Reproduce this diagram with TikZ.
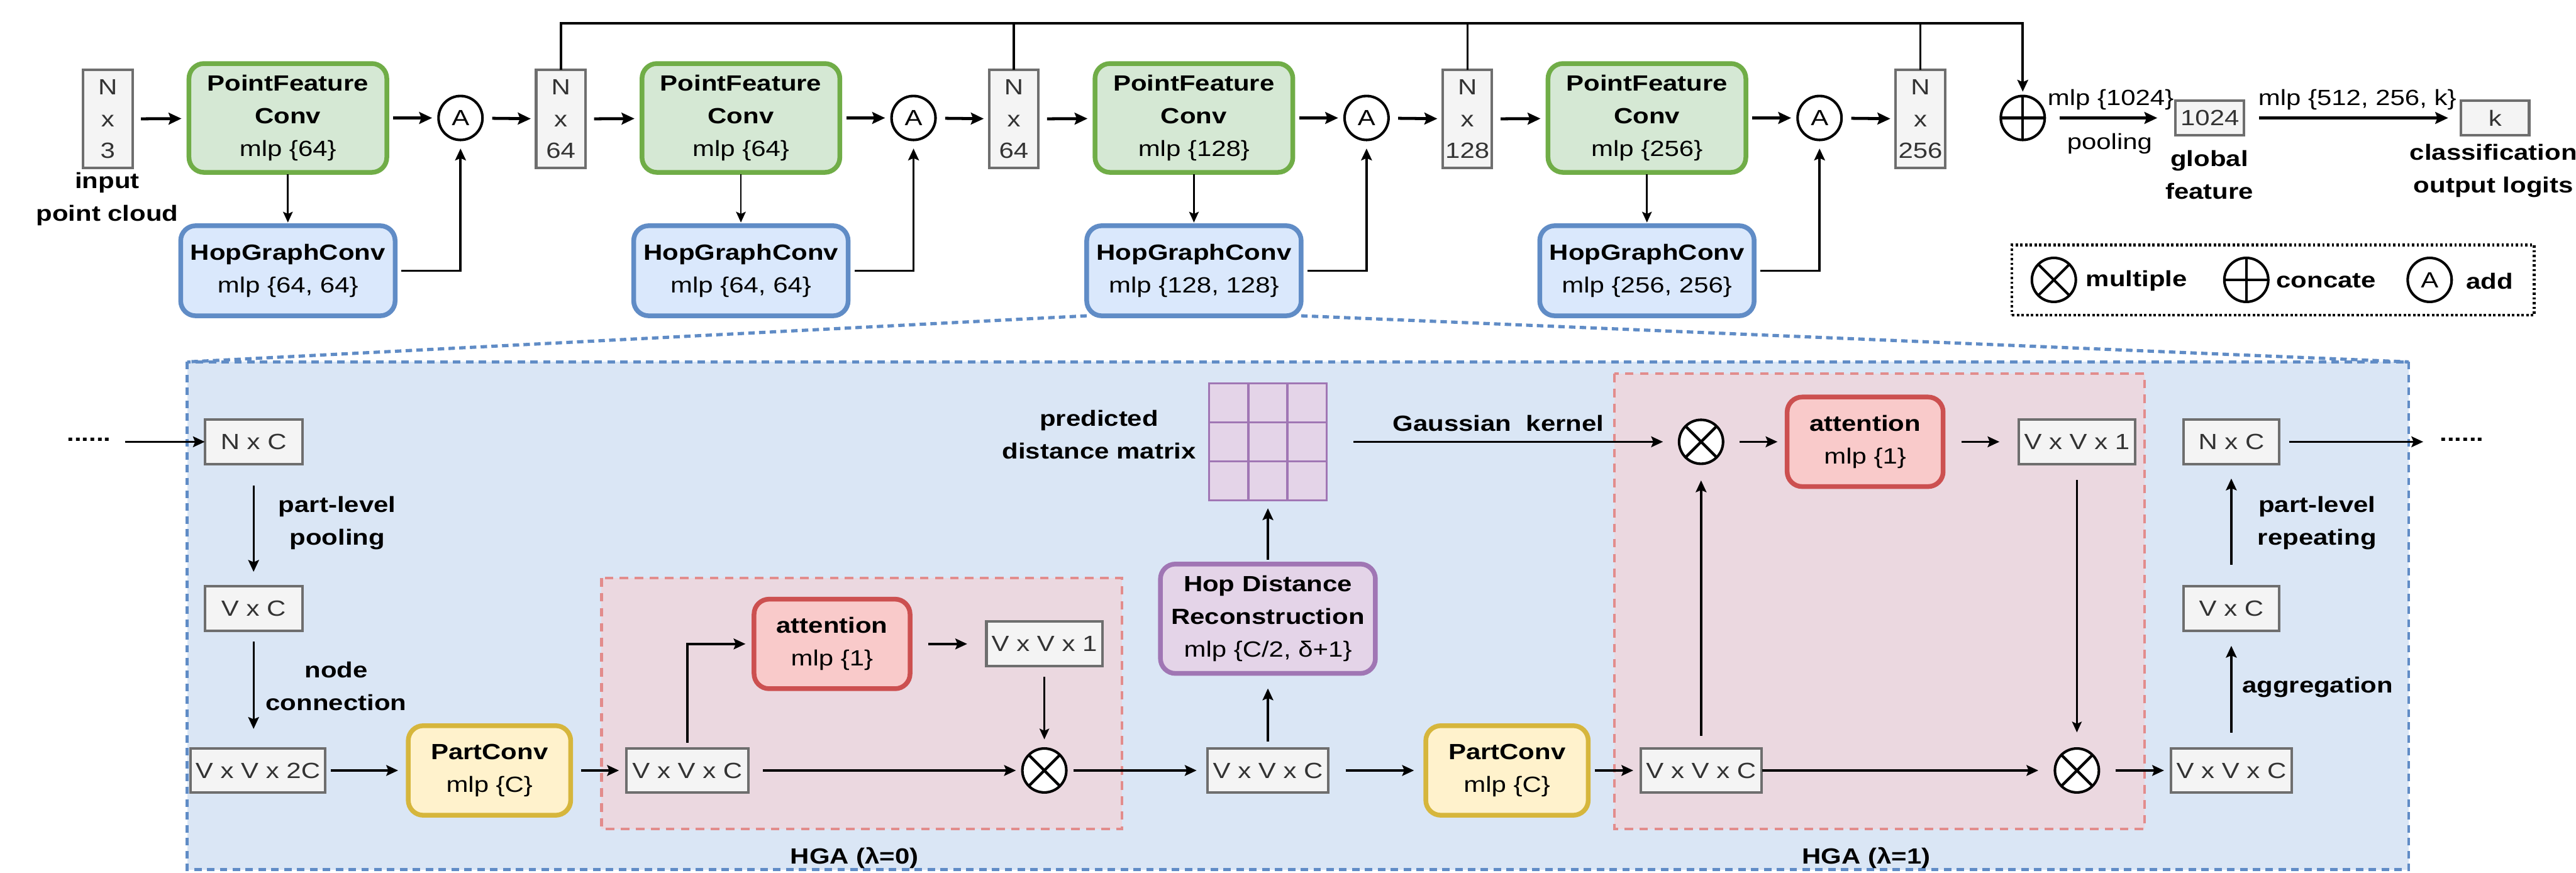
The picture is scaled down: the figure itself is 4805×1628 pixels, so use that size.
\documentclass[tikz,border=0pt]{standalone}
\usepackage{fontspec}
\setmainfont{Liberation Sans}[FakeStretch=1.2]
\usetikzlibrary{arrows.meta,calc}
\definecolor{gfill}{RGB}{213,232,212}
\definecolor{gdraw}{RGB}{112,173,71}
\definecolor{bfill}{RGB}{218,232,252}
\definecolor{bdraw}{RGB}{96,140,198}
\definecolor{yfill}{RGB}{255,242,204}
\definecolor{ydraw}{RGB}{214,182,60}
\definecolor{rfill}{RGB}{249,202,202}
\definecolor{rdraw}{RGB}{204,80,80}
\definecolor{pfill}{RGB}{228,212,232}
\definecolor{pdraw}{RGB}{160,118,180}
\definecolor{grayf}{RGB}{244,244,244}
\definecolor{grayd}{RGB}{110,110,110}
\definecolor{graytxt}{RGB}{51,51,51}
\definecolor{regfill}{RGB}{218,230,245}
\definecolor{regdraw}{RGB}{96,140,198}
\definecolor{pinkfill}{RGB}{235,216,224}
\definecolor{pinkdraw}{RGB}{226,140,140}
\begin{document}
\begin{tikzpicture}[x=0.25pt,y=-0.25pt,
  every node/.style={font=\fontsize{10.25}{15.25}\selectfont, align=center, inner sep=0pt, outer sep=0pt},
  lbl/.style={font=\fontsize{10.25}{15.25}\selectfont\bfseries},
  cbox/.style={draw, rounded corners=7pt, line width=2.2pt},
  pfbox/.style={cbox, draw=gdraw, fill=gfill, minimum width=92.25pt, minimum height=50.75pt},
  hgbox/.style={cbox, draw=bdraw, fill=bfill, minimum width=100pt, minimum height=42pt},
  pcbox/.style={cbox, draw=ydraw, fill=yfill, minimum width=75.75pt, minimum height=41.75pt},
  attbox/.style={cbox, draw=rdraw, fill=rfill, minimum width=72.75pt, minimum height=41.75pt},
  hopbox/.style={cbox, draw=pdraw, fill=pfill, minimum width=100.25pt, minimum height=51pt},
  gbox/.style={draw=grayd, fill=grayf, line width=1.2pt, text=graytxt, minimum height=20.75pt},
  vbox/.style={gbox, minimum width=23pt, minimum height=45.75pt, font=\fontsize{10.25}{14.75}\selectfont},
  circ/.style={circle, draw, line width=1.2pt, minimum size=20.5pt, fill=white},
  arr/.style={-{Stealth[length=6pt,width=5.5pt,inset=1pt]}, line width=1.4pt},
  arrs/.style={-{Stealth[length=5.5pt,width=5pt,inset=1pt]}, line width=1pt},
  arrt/.style={-{Stealth[length=5pt,width=4.5pt,inset=1pt]}, line width=0.8pt},
  projline/.style={draw=regdraw, line width=1.5pt, dash pattern=on 3pt off 2pt},
]
\useasboundingbox (0,0) rectangle (4805,1628);
\fill[white] (0,0) rectangle (4805,1628);

% ---------- lower regions ----------
\draw[fill=regfill, draw=regdraw, line width=1.3pt, dash pattern=on 3.5pt off 2.5pt] (349,675) rectangle (4493,1622);
\draw[fill=pinkfill, draw=pinkdraw, line width=1.2pt, dash pattern=on 4pt off 3pt] (1122,1078) rectangle (2093,1546);
\draw[fill=pinkfill, draw=pinkdraw, line width=1.2pt, dash pattern=on 4pt off 3pt] (3011,697) rectangle (4000,1546);
\coordinate (bigNW) at (349,675);
\coordinate (bigNE) at (4493,675);

% ---------- top row ----------
\node[vbox] (nx3) at (201,222) {N\\x\\3};
\node[pfbox] (pf1) at (537,220) {\textbf{PointFeature}\\\textbf{Conv}\\mlp \{64\}};
\node[hgbox] (hg1) at (537,505) {\textbf{HopGraphConv}\\mlp \{64, 64\}};
\node[circ] (a1) at (859,220) {A};
\node[vbox] (n64a) at (1046,222) {N\\x\\64};
\node[pfbox] (pf2) at (1382,220) {\textbf{PointFeature}\\\textbf{Conv}\\mlp \{64\}};
\node[hgbox] (hg2) at (1382,505) {\textbf{HopGraphConv}\\mlp \{64, 64\}};
\node[circ] (a2) at (1704,220) {A};
\node[vbox] (n64b) at (1891,222) {N\\x\\64};
\node[pfbox] (pf3) at (2227,220) {\textbf{PointFeature}\\\textbf{Conv}\\mlp \{128\}};
\node[hgbox] (hg3) at (2227,505) {\textbf{HopGraphConv}\\mlp \{128, 128\}};
\node[circ] (a3) at (2549,220) {A};
\node[vbox] (n128) at (2737,222) {N\\x\\128};
\node[pfbox] (pf4) at (3072,220) {\textbf{PointFeature}\\\textbf{Conv}\\mlp \{256\}};
\node[hgbox] (hg4) at (3072,505) {\textbf{HopGraphConv}\\mlp \{256, 256\}};
\node[circ] (a4) at (3394,220) {A};
\node[vbox] (n256) at (3582,222) {N\\x\\256};
\node[circ] (cat) at (3773,220) {};
\draw[line width=1.2pt] (cat.north) -- (cat.south) (cat.west) -- (cat.east);
\node[gbox, minimum width=32pt, minimum height=16.25pt] (g1024) at (4122,220) {1024};
\node[gbox, minimum width=31.75pt, minimum height=16.25pt] (kbox) at (4654,220) {k};

\node[lbl] (linput) at (200,371) {input\\point cloud};
\node (lmlp1024) at (3937,186) {mlp \{1024\}};
\node (lpool) at (3935,268) {pooling};
\node (lmlp512) at (4397,186) {mlp \{512, 256, k\}};
\node[lbl] (lglob) at (4121,326) {global\\feature};
\node[lbl] (lcls) at (4651,318) {classification\\output logits};

% top row arrows
\draw[arr, shorten <=4pt, shorten >=3.5pt] (nx3) -- (pf1);
\draw[arr, shorten <=3pt, shorten >=3pt] (pf1) -- (a1);
\draw[arr, shorten <=4.5pt, shorten >=2.5pt] (a1) -- (n64a);
\draw[arr, shorten <=4pt, shorten >=3.5pt] (n64a) -- (pf2);
\draw[arr, shorten <=3pt, shorten >=3pt] (pf2) -- (a2);
\draw[arr, shorten <=4.5pt, shorten >=2.5pt] (a2) -- (n64b);
\draw[arr, shorten <=4pt, shorten >=3.5pt] (n64b) -- (pf3);
\draw[arr, shorten <=3pt, shorten >=3pt] (pf3) -- (a3);
\draw[arr, shorten <=4.5pt, shorten >=2.5pt] (a3) -- (n128);
\draw[arr, shorten <=4pt, shorten >=3.5pt] (n128) -- (pf4);
\draw[arr, shorten <=3pt, shorten >=3pt] (pf4) -- (a4);
\draw[arr, shorten <=4.5pt, shorten >=2.5pt] (a4) -- (n256);
\draw[arr, shorten <=7pt, shorten >=8.5pt] (cat) -- (g1024);
\draw[arr, shorten <=7pt, shorten >=6pt] (g1024) -- (kbox);

\draw[arrt, shorten <=1pt, shorten >=1.5pt] (pf1) -- (hg1);
\draw[arrt, shorten <=1pt, shorten >=1.5pt] (pf2) -- (hg2);
\draw[arrt, shorten <=1pt, shorten >=1.5pt] (pf3) -- (hg3);
\draw[arrt, shorten <=1pt, shorten >=1.5pt] (pf4) -- (hg4);
\draw[arrs, line width=1.1pt, shorten <=3pt, shorten >=4pt] (hg1.east) -| (a1.south);
\draw[arrs, line width=1.1pt, shorten <=3pt, shorten >=4pt] (hg2.east) -| (a2.south);
\draw[arrs, line width=1.1pt, shorten <=3pt, shorten >=4pt] (hg3.east) -| (a3.south);
\draw[arrs, line width=1.1pt, shorten <=3pt, shorten >=4pt] (hg4.east) -| (a4.south);

\coordinate (topR) at (3773,43);
\draw[arrs, line width=1.2pt, shorten >=2pt] (n64a.north) |- (topR) -- (cat.north);
\draw[line width=0.9pt] (n64b.north) -- (n64b.north |- topR);
\draw[line width=0.9pt] (n128.north) -- (n128.north |- topR);
\draw[line width=0.9pt] (n256.north) -- (n256.north |- topR);

% projection lines
\draw[projline] (hg3.south west) -- (bigNW);
\draw[projline] (hg3.south east) -- (bigNE);

% legend
\node[draw, line width=1.3pt, dash pattern=on 1.1pt off 1.1pt, minimum width=243.5pt, minimum height=32.75pt] (legend) at (4240,522.5) {};
\node[circ] (lgm) at (3831,522) {};
\draw[line width=1.2pt] (lgm.north east) -- (lgm.south west) (lgm.north west) -- (lgm.south east);
\node[lbl, anchor=west] (lgmt) at (3891,524) {multiple};
\node[circ] (lgc) at (4190,522) {};
\draw[line width=1.2pt] (lgc.north) -- (lgc.south) (lgc.west) -- (lgc.east);
\node[lbl, anchor=west] (lgct) at (4246,524) {concate};
\node[circ] (lga) at (4532,522) {A};
\node[lbl, anchor=west] (lgat) at (4600,524) {add};

% ---------- lower part ----------
\node[lbl] (dotsl) at (166,820) {......};
\coordinate (dlstart) at (233,824);
\node[gbox, minimum width=45.5pt] (nxc1) at (473,824) {N x C};
\node[gbox, minimum width=45.5pt] (vxc1) at (473,1135) {V x C};
\node[gbox, minimum width=62.75pt] (vvx2c) at (481,1437) {V x V x 2C};
\node[pcbox] (pc1) at (913,1437) {\textbf{PartConv}\\mlp \{C\}};
\node[gbox, minimum width=56.75pt] (vvxc1) at (1282,1437) {V x V x C};
\node[attbox] (att1) at (1552,1201) {\textbf{attention}\\mlp \{1\}};
\node[gbox, minimum width=54pt] (vvx1a) at (1948,1201) {V x V x 1};
\node[circ] (mul1) at (1948,1437) {};
\draw[line width=1.3pt] (mul1.north east) -- (mul1.south west) (mul1.north west) -- (mul1.south east);
\node[gbox, minimum width=56.5pt] (vvxc2) at (2365,1437) {V x V x C};
\node[hopbox] (hop) at (2365,1154) {\textbf{Hop Distance}\\\textbf{Reconstruction}\\mlp \{C/2, δ+1\}};
\node[draw=pdraw, fill=pfill, line width=1pt, minimum width=54.75pt, minimum height=54.5pt] (mat) at (2365,824) {};
\draw[pdraw, line width=1pt]
  ($(mat.north west)!1/3!(mat.north east)$) -- ($(mat.south west)!1/3!(mat.south east)$)
  ($(mat.north west)!2/3!(mat.north east)$) -- ($(mat.south west)!2/3!(mat.south east)$)
  ($(mat.north west)!1/3!(mat.south west)$) -- ($(mat.north east)!1/3!(mat.south east)$)
  ($(mat.north west)!2/3!(mat.south west)$) -- ($(mat.north east)!2/3!(mat.south east)$);
\node[circ] (mul2) at (3173,824) {};
\draw[line width=1.3pt] (mul2.north east) -- (mul2.south west) (mul2.north west) -- (mul2.south east);
\node[pcbox] (pc2) at (2811,1437) {\textbf{PartConv}\\mlp \{C\}};
\node[gbox, minimum width=56.25pt] (vvxc3) at (3173,1437) {V x V x C};
\node[attbox] (att2) at (3479,824) {\textbf{attention}\\mlp \{1\}};
\node[gbox, minimum width=54.25pt] (vvx1b) at (3874,824) {V x V x 1};
\node[circ] (mul3) at (3874,1437) {};
\draw[line width=1.3pt] (mul3.north east) -- (mul3.south west) (mul3.north west) -- (mul3.south east);
\node[gbox, minimum width=56.25pt] (vvxc4) at (4162,1437) {V x V x C};
\node[gbox, minimum width=44.75pt] (vxc2) at (4162,1135) {V x C};
\node[gbox, minimum width=44.75pt] (nxc2) at (4162,824) {N x C};
\node[lbl] (dotsr) at (4592,820) {......};
\coordinate (drend) at (4520,824);

\node[lbl] (lplp) at (629,975) {part-level\\pooling};
\node[lbl] (lnc) at (627,1280) {node\\connection};
\node[lbl] (lpdm) at (2050,811) {predicted\\distance matrix};
\node[lbl] (lgk) at (2795,790) {Gaussian~~kernel};
\node[lbl] (lhga0) at (1594,1600) {HGA (λ=0)};
\node[lbl] (lhga1) at (3481,1600) {HGA (λ=1)};
\node[lbl] (lagg) at (4323,1282) {aggregation};
\node[lbl] (lplr) at (4322,975) {part-level\\repeating};

% lower arrows
\draw[arrs] (dlstart) -- (nxc1);
\draw[arrs, shorten <=10pt, shorten >=6.75pt] (nxc1) -- (vxc1);
\draw[arrs, shorten <=5pt, shorten >=9pt] (vxc1) -- (vvx2c.north -| vxc1);
\draw[arrs, shorten <=2.75pt, shorten >=4.75pt] (vvx2c) -- (pc1);
\draw[arrs, shorten <=4.75pt, shorten >=3.5pt] (pc1) -- (vvxc1);
\draw[arrs, shorten <=2.5pt, shorten >=4pt] (vvxc1.north) |- (att1.west);
\draw[arrs, shorten <=8.5pt, shorten >=9pt] (att1) -- (vvx1a);
\draw[arrt, shorten <=5pt, shorten >=4.25pt] (vvx1a) -- (mul1);
\draw[arrs, shorten <=7pt, shorten >=3pt] (vvxc1) -- (mul1);
\draw[arrs, shorten <=3.25pt, shorten >=5pt] (mul1) -- (vvxc2);
\draw[arrs, shorten <=3.25pt, shorten >=7pt] (vvxc2) -- (hop);
\draw[arrs, shorten <=2pt, shorten >=3.75pt] (hop) -- (mat);
\draw[arrs, shorten <=12.5pt, shorten >=7.5pt] (mat) -- (mul2);
\draw[arrs, shorten <=8pt, shorten >=5.5pt] (vvxc2) -- (pc2);
\draw[arrs, shorten <=3pt, shorten >=3.5pt] (pc2) -- (vvxc3);
\draw[arrs, shorten <=5.75pt, shorten >=7.75pt] (vvxc3) -- (mul2);
\draw[arrs, shorten <=7.75pt, shorten >=4.5pt] (mul2) -- (att2);
\draw[arrs, shorten <=8.5pt, shorten >=9pt] (att2) -- (vvx1b);
\draw[arrt, shorten <=7.5pt, shorten >=7.5pt] (vvx1b) -- (mul3);
\draw[arrs, shorten <=0.5pt, shorten >=7.75pt] (vvxc3) -- (mul3);
\draw[arrs, shorten <=7.75pt, shorten >=3.25pt] (mul3) -- (vvxc4);
\draw[arrs, shorten <=7.25pt, shorten >=7pt] (vvxc4) -- (vxc2);
\draw[arrs, shorten <=10pt, shorten >=6.75pt] (vxc2) -- (nxc2);
\draw[arrs, shorten <=4.5pt] (nxc2) -- (drend);
\end{tikzpicture}
\end{document}
